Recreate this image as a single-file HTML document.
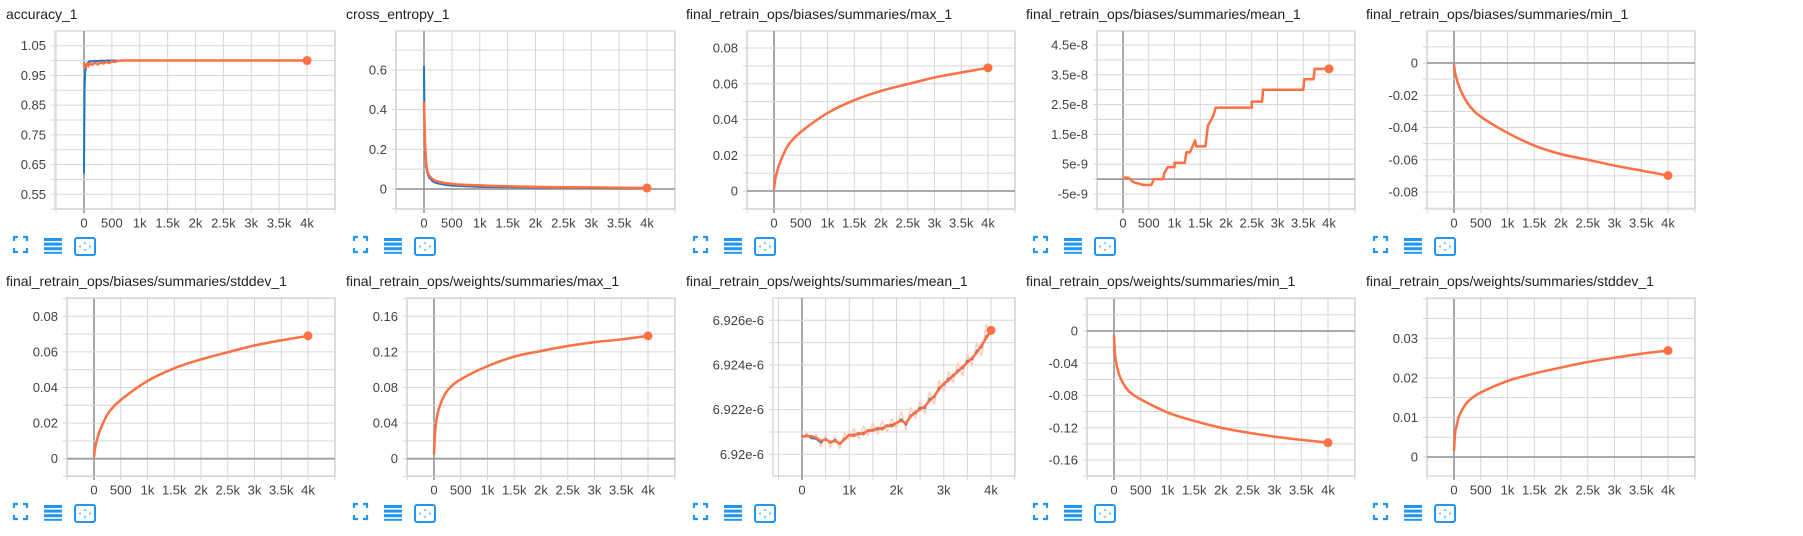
<!DOCTYPE html>
<html><head><meta charset="utf-8"><style>
html,body{margin:0;padding:0;background:#fff;}
svg{display:block;font-family:"Liberation Sans",sans-serif;}
</style></head><body>
<svg id="root" width="1803" height="536" viewBox="0 0 1803 536" xmlns="http://www.w3.org/2000/svg"></svg>
<script>
// ---------- data ----------
const accSteps = [0,10,20,40,60,80,100,150,200,250,300,350,400,450,500,550,600,700,1000,2000,3000,4000];
const accBlue = [0.62,0.90,0.96,0.985,0.99,0.995,0.998,0.997,0.999,0.998,1,0.999,1,1,1,1,1,1,1,1,1,1];
const accOrange = [0.995,0.985,0.978,0.983,0.988,0.981,0.990,0.986,0.993,0.987,0.994,0.99,0.996,0.992,0.997,0.995,0.999,1,1,1,1,1];

const ceSteps = [0,10,20,40,60,80,100,150,200,250,300,400,500,600,800,1000,1200,1500,2000,2500,3000,3500,4000];
const ceBlue = [0.62,0.30,0.18,0.11,0.08,0.065,0.055,0.04,0.032,0.028,0.025,0.02,0.017,0.016,0.013,0.011,0.010,0.009,0.007,0.006,0.005,0.004,0.004];
const ceOrange = [0.44,0.33,0.22,0.13,0.09,0.075,0.065,0.05,0.042,0.038,0.034,0.029,0.026,0.023,0.020,0.018,0.016,0.014,0.011,0.009,0.008,0.006,0.005];

const curveSteps = [0,20,50,100,200,300,500,1000,1500,2000,2500,3000,3500,4000];
const bMax = [0.001,0.006,0.010,0.015,0.022,0.027,0.033,0.0436,0.0508,0.056,0.0598,0.0635,0.0663,0.0689];
const bMin = [-0.001,-0.006,-0.010,-0.015,-0.022,-0.027,-0.0333,-0.0433,-0.0512,-0.0565,-0.060,-0.0636,-0.0667,-0.0698];
const bStd = [0.001,0.006,0.010,0.015,0.022,0.027,0.033,0.0437,0.0508,0.0558,0.0598,0.0636,0.0665,0.069];
const wMax = [0.005,0.03,0.045,0.058,0.072,0.08,0.0892,0.104,0.1147,0.121,0.1266,0.131,0.134,0.138];
const wMin = [-0.005,-0.03,-0.042,-0.055,-0.068,-0.076,-0.0848,-0.101,-0.1116,-0.12,-0.126,-0.131,-0.135,-0.1385];
const wStd = [0.0015,0.006,0.008,0.0105,0.013,0.0145,0.0163,0.0192,0.0211,0.0226,0.024,0.0251,0.0261,0.0269];

const bmSteps = [0,100,200,400,550,600,780,800,870,1000,1000,1200,1230,1300,1400,1420,1600,1650,1750,1800,2500,2500,2700,2720,3500,3520,3700,3720,4000];
const bmVals = [0.05e-8,0.05e-8,-0.1e-8,-0.2e-8,-0.2e-8,0,0,0.2e-8,0.4e-8,0.4e-8,0.55e-8,0.55e-8,0.9e-8,0.9e-8,1.3e-8,1.1e-8,1.1e-8,1.8e-8,2.1e-8,2.4e-8,2.4e-8,2.6e-8,2.6e-8,3.0e-8,3.0e-8,3.35e-8,3.35e-8,3.7e-8,3.7e-8];

const wmSteps = [0,100,200,300,400,500,600,700,800,900,1000,1100,1200,1300,1400,1500,1600,1700,1800,1900,2000,2100,2200,2300,2400,2500,2600,2700,2800,2900,3000,3100,3200,3300,3400,3500,3600,3700,3800,3900,4000];
const wmOrange = [6.92078e-6,6.92082e-6,6.92080e-6,6.92074e-6,6.92060e-6,6.92066e-6,6.92055e-6,6.92060e-6,6.92048e-6,6.92066e-6,6.92088e-6,6.92082e-6,6.92095e-6,6.92090e-6,6.92108e-6,6.92105e-6,6.92118e-6,6.92112e-6,6.92130e-6,6.92125e-6,6.92142e-6,6.92150e-6,6.92140e-6,6.92168e-6,6.92190e-6,6.92200e-6,6.92215e-6,6.92240e-6,6.92262e-6,6.92290e-6,6.92318e-6,6.92330e-6,6.92355e-6,6.92370e-6,6.92392e-6,6.92410e-6,6.92432e-6,6.92455e-6,6.92488e-6,6.92520e-6,6.92555e-6];
const wmBlue = [6.92076e-6,6.92086e-6,6.92072e-6,6.92068e-6,6.92052e-6,6.92070e-6,6.92050e-6,6.92066e-6,6.92044e-6,6.92072e-6,6.92084e-6,6.92090e-6,6.92088e-6,6.92098e-6,6.92102e-6,6.92112e-6,6.92110e-6,6.92120e-6,6.92124e-6,6.92134e-6,6.92138e-6,6.92158e-6,6.92132e-6,6.92176e-6,6.92182e-6,6.92210e-6,6.92206e-6,6.92250e-6,6.92254e-6,6.92300e-6,6.92310e-6,6.92340e-6,6.92348e-6,6.92378e-6,6.92384e-6,6.92420e-6,6.92424e-6,6.92465e-6,6.92478e-6,6.92530e-6,6.92550e-6];
const wmRaw = [6.92070e-6,6.92095e-6,6.92065e-6,6.92090e-6,6.92035e-6,6.92085e-6,6.92030e-6,6.92080e-6,6.92025e-6,6.92095e-6,6.92070e-6,6.92115e-6,6.92070e-6,6.92125e-6,6.92085e-6,6.92140e-6,6.92090e-6,6.92150e-6,6.92100e-6,6.92160e-6,6.92115e-6,6.92190e-6,6.92110e-6,6.92210e-6,6.92160e-6,6.92240e-6,6.92180e-6,6.92280e-6,6.92225e-6,6.92330e-6,6.92280e-6,6.92370e-6,6.92320e-6,6.92410e-6,6.92350e-6,6.92450e-6,6.92395e-6,6.92500e-6,6.92440e-6,6.92580e-6,6.92540e-6];

const yTicksAcc = [1.05,0.95,0.85,0.75,0.65,0.55];
const yTicksCe = [0.6,0.4,0.2,0];
const yTicksBMax = [0.08,0.06,0.04,0.02,0];
const yTicksBMean = [4.5e-8,3.5e-8,2.5e-8,1.5e-8,5e-9,-5e-9];
const yTickLabelsBMean = ["4.5e-8","3.5e-8","2.5e-8","1.5e-8","5e-9","-5e-9"];
const yTicksBMin = [0,-0.02,-0.04,-0.06,-0.08];
const yTicksBStd = [0.08,0.06,0.04,0.02,0];
const yTicksWMax = [0.16,0.12,0.08,0.04,0];
const yTicksWMean = [6.926e-6,6.924e-6,6.922e-6,6.92e-6];
const yTickLabelsWMean = ["6.926e-6","6.924e-6","6.922e-6","6.92e-6"];
const yTicksWMin = [0,-0.04,-0.08,-0.12,-0.16];
const yTicksWStd = [0.03,0.02,0.01,0];
const xTicksStd = [0,500,1000,1500,2000,2500,3000,3500,4000];
const xTickLabelsStd = ["0","500","1k","1.5k","2k","2.5k","3k","3.5k","4k"];
const xTicksK = [0,1000,2000,3000,4000];
const xTickLabelsK = ["0","1k","2k","3k","4k"];

// ---------- layout ----------
const NS="http://www.w3.org/2000/svg";
const root=document.getElementById('root');
function mk(tag,attrs,parent){const e=document.createElementNS(NS,tag);for(const k in attrs)e.setAttribute(k,attrs[k]);(parent||root).appendChild(e);return e;}
const ORANGE="#ff7043", BLUE="#1a78c2";

const charts=[
 {title:"accuracy_1",col:0,row:0,left:55,zero:84,x4k:307,v1:1.05,p1:45.7,v2:0.55,p2:194.3,minor:0.05,yt:yTicksAcc,
  series:[{s:accSteps,v:accBlue,c:BLUE,w:2},{s:accSteps,v:accOrange,c:ORANGE,w:2.5,dot:1}]},
 {title:"cross_entropy_1",col:1,row:0,left:56,zero:84,x4k:307,v1:0.6,p1:70,v2:0,p2:189,minor:0.1,yt:yTicksCe,zeroH:1,
  series:[{s:ceSteps,v:ceBlue,c:BLUE,w:2},{s:ceSteps,v:ceOrange,c:ORANGE,w:2.5,dot:1}]},
 {title:"final_retrain_ops/biases/summaries/max_1",col:2,row:0,left:67,zero:94,x4k:308,v1:0.08,p1:48,v2:0,p2:191,minor:0.01,yt:yTicksBMax,zeroH:1,
  series:[{s:curveSteps,v:bMax,c:BLUE,w:2,smooth:1},{s:curveSteps,v:bMax,c:ORANGE,w:2.5,smooth:1,dot:1}]},
 {title:"final_retrain_ops/biases/summaries/mean_1",col:3,row:0,left:77,zero:103,x4k:309,v1:4.5e-8,p1:45,v2:-5e-9,p2:194,minor:5e-9,yt:yTicksBMean,ytl:yTickLabelsBMean,zeroH:1,
  series:[{s:bmSteps,v:bmVals,c:BLUE,w:2},{s:bmSteps,v:bmVals,c:ORANGE,w:2.5,dot:1}]},
 {title:"final_retrain_ops/biases/summaries/min_1",col:4,row:0,left:67,zero:94,x4k:308,v1:0,p1:63,v2:-0.08,p2:192,minor:0.01,yt:yTicksBMin,zeroH:1,
  series:[{s:curveSteps,v:bMin,c:BLUE,w:2,smooth:1},{s:curveSteps,v:bMin,c:ORANGE,w:2.5,smooth:1,dot:1}]},
 {title:"final_retrain_ops/biases/summaries/stddev_1",col:0,row:1,left:67,zero:94,x4k:308,v1:0.08,p1:49.3,v2:0,p2:191.7,minor:0.01,yt:yTicksBStd,zeroH:1,
  series:[{s:curveSteps,v:bStd,c:BLUE,w:2,smooth:1},{s:curveSteps,v:bStd,c:ORANGE,w:2.5,smooth:1,dot:1}]},
 {title:"final_retrain_ops/weights/summaries/max_1",col:1,row:1,left:67,zero:94,x4k:308,v1:0.16,p1:49.3,v2:0,p2:191.7,minor:0.02,yt:yTicksWMax,zeroH:1,
  series:[{s:curveSteps,v:wMax,c:BLUE,w:2,smooth:1},{s:curveSteps,v:wMax,c:ORANGE,w:2.5,smooth:1,dot:1}]},
 {title:"final_retrain_ops/weights/summaries/mean_1",col:2,row:1,left:93,zero:122,x4k:311,v1:6.926e-6,p1:53.3,v2:6.92e-6,p2:187.3,minor:1e-9,yt:yTicksWMean,ytl:yTickLabelsWMean,xk:1,
  series:[{s:wmSteps,v:wmRaw,c:"#ffcdbd",w:1.5},{s:wmSteps,v:wmBlue,c:BLUE,w:1.5},{s:wmSteps,v:wmOrange,c:ORANGE,w:2.5,dot:1}]},
 {title:"final_retrain_ops/weights/summaries/min_1",col:3,row:1,left:67,zero:94,x4k:308,v1:0,p1:64,v2:-0.16,p2:193,minor:0.02,yt:yTicksWMin,zeroH:1,
  series:[{s:curveSteps,v:wMin,c:BLUE,w:2,smooth:1},{s:curveSteps,v:wMin,c:ORANGE,w:2.5,smooth:1,dot:1}]},
 {title:"final_retrain_ops/weights/summaries/stddev_1",col:4,row:1,left:67,zero:94,x4k:308,v1:0.03,p1:71.3,v2:0,p2:190,minor:0.005,yt:yTicksWStd,zeroH:1,
  series:[{s:curveSteps,v:wStd,c:BLUE,w:2,smooth:1},{s:curveSteps,v:wStd,c:ORANGE,w:2.5,smooth:1,dot:1}]}
];

function pathFrom(pts,smooth){
  if(!smooth) return 'M'+pts.map(p=>p[0].toFixed(2)+','+p[1].toFixed(2)).join('L');
  let d='M'+pts[0][0]+','+pts[0][1];
  for(let i=0;i<pts.length-1;i++){
    const p0=pts[Math.max(0,i-1)],p1=pts[i],p2=pts[i+1],p3=pts[Math.min(pts.length-1,i+2)];
    const c1=[p1[0]+(p2[0]-p0[0])/6,p1[1]+(p2[1]-p0[1])/6];
    const c2=[p2[0]-(p3[0]-p1[0])/6,p2[1]-(p3[1]-p1[1])/6];
    d+='C'+c1[0].toFixed(2)+','+c1[1].toFixed(2)+' '+c2[0].toFixed(2)+','+c2[1].toFixed(2)+' '+p2[0].toFixed(2)+','+p2[1].toFixed(2);
  }
  return d;
}

function drawIcons(g,ox,oy){
  const ic1=mk('g',{},g);
  
  
  const c="#2196f3";
  const d="M14 "+(oy-6)+"v-4h4M23 "+(oy-10)+"h4v4M27 "+(oy+1)+"v4h-4M18 "+(oy+5)+"h-4v-4";
  mk('path',{d:d,fill:'none',stroke:c,'stroke-width':2.2,transform:'translate('+ox+',0)'},ic1);
  const ic2=mk('g',{transform:'translate('+ox+',0)'},g);
  
  
  for(let i=0;i<4;i++) mk('rect',{x:44,y:oy-9+i*4.6,width:18,height:i<3?3:2,fill:c},ic2);
  const ic3=mk('g',{transform:'translate('+ox+',0)'},g);
  
  
  mk('rect',{x:75,y:oy-9,width:20,height:17,rx:2,fill:'none',stroke:c,'stroke-width':2},ic3);
  mk('path',{d:'M85 '+(oy-5)+'l-1.5 1.5h3zM85 '+(oy+4)+'l-1.5 -1.5h3zM79 '+(oy-0.5)+'l1.5 -1.5v3zM91 '+(oy-0.5)+'l-1.5 -1.5v3z',fill:c},ic3);
}

charts.forEach((ch,idx)=>{
  const ox=ch.col*340, oy=ch.row*267;
  const g=mk('g',{transform:'translate('+ox+','+oy+')'});
  
  
  const t=mk('text',{x:6,y:19,'font-size':14,fill:'#212121'},g);
  t.textContent=ch.title;
  
  
  const top=31,bot=209,right=335,L=ch.left;
  const k=(ch.x4k-ch.zero)/4000;
  const X=v=>ch.zero+v*k;
  const Y=v=>ch.p1+(v-ch.v1)*(ch.p2-ch.p1)/(ch.v2-ch.v1);
  const plot=mk('g',{},g);
  
  
  mk('rect',{x:L,y:top,width:right-L,height:bot-top,fill:'#fff',stroke:'#e3e3e3','stroke-width':2},plot);
  // vertical grid
  for(let v=-1000;v<=5000;v+=500){const x=X(v);if(x<L-0.5||x>right+0.5)continue;
    mk('line',{x1:x,x2:x,y1:top,y2:bot+4,stroke:v===0?'#9e9e9e':'#d6d6d6','stroke-width':v===0?1.8:1},plot);}
  // horizontal grid
  const pxPerUnit=(ch.p2-ch.p1)/(ch.v2-ch.v1);
  const stepPx=Math.abs(ch.minor*pxPerUnit);
  const y0=Y(ch.yt[0]);
  for(let y=y0-Math.floor((y0-top)/stepPx)*stepPx;y<=bot+0.5;y+=stepPx){
    mk('line',{x1:L-4,x2:right,y1:y,y2:y,stroke:'#d6d6d6','stroke-width':1},plot);}
  if(ch.zeroH){const yz=Y(0);mk('line',{x1:L,x2:right,y1:yz,y2:yz,stroke:'#9e9e9e','stroke-width':1.8},plot);}
  // y tick labels
  ch.yt.forEach((v,i)=>{const tl=mk('text',{x:L-9,y:Y(v)+4.5,'font-size':13,fill:'#424242','text-anchor':'end'},g);
    tl.textContent=ch.ytl?ch.ytl[i]:String(v);
    
    });
  // x tick labels
  const xt=ch.xk?xTicksK:xTicksStd, xl=ch.xk?xTickLabelsK:xTickLabelsStd;
  xt.forEach((v,i)=>{const tl=mk('text',{x:X(v),y:227.5,'font-size':13,fill:'#424242','text-anchor':'middle'},g);
    tl.textContent=xl[i];
    
    });
  // series
  const clipId='clip'+idx;
  const cp=mk('clipPath',{id:clipId},g);mk('rect',{x:L,y:top,width:right-L,height:bot-top},cp);
  const sg=mk('g',{'clip-path':'url(#'+clipId+')'},g);
  ch.series.forEach((s,si)=>{
    const pts=s.s.map((st,i)=>[X(st),Y(s.v[i])]);
    const p=mk('path',{d:pathFrom(pts,s.smooth),fill:'none',stroke:s.c,'stroke-width':s.w,'stroke-linejoin':'round'},sg);
    
    
    if(s.dot){const last=pts[pts.length-1];
      const dt=mk('circle',{cx:last[0],cy:last[1],r:4.5,fill:ORANGE},g);
      
      }
  });
  drawIcons(g,0,247);
});
</script>
</body></html>
